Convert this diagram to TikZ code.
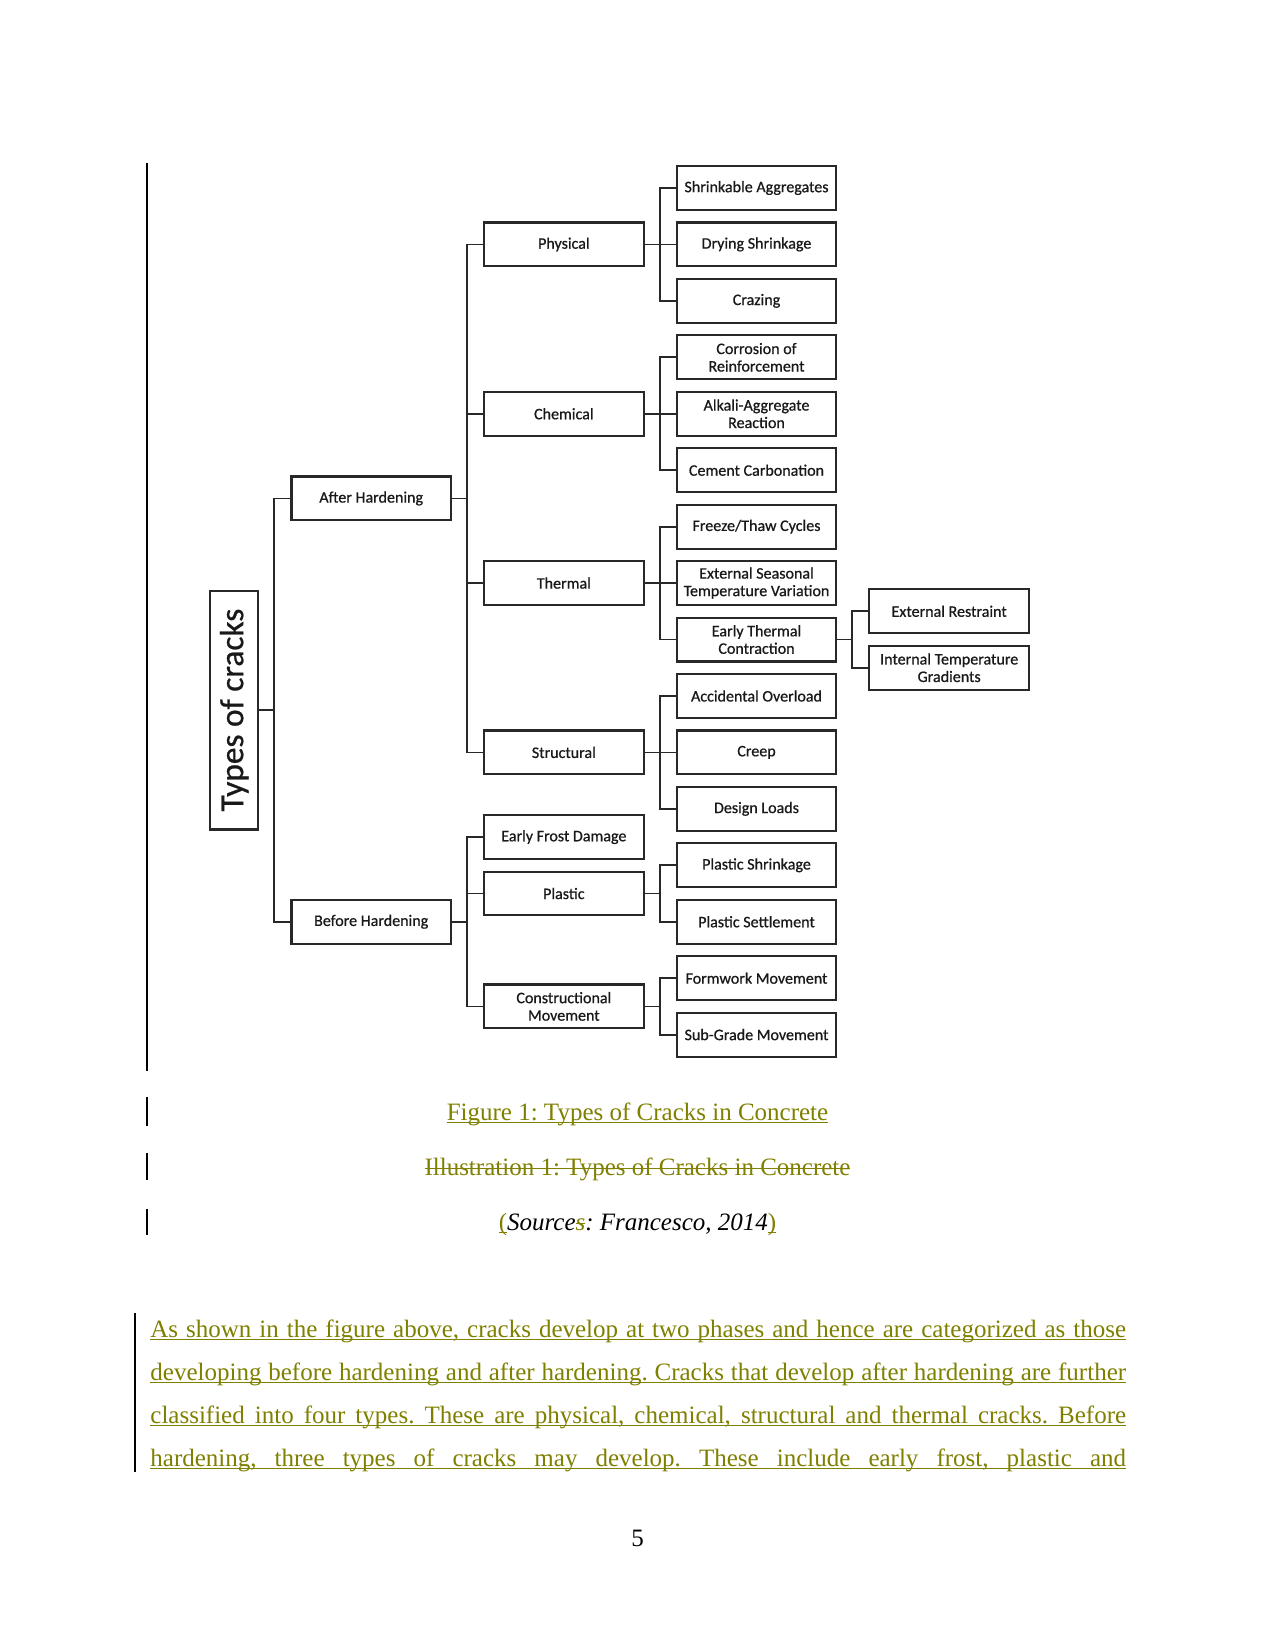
\documentclass[tikz,border=0pt]{standalone}
\usepackage{fontspec}
\setmainfont{Liberation Serif}
\newfontfamily\diagfont[FakeBold=0.7]{Carlito}
\usetikzlibrary{positioning, calc}

\definecolor{cambio}{RGB}{128,128,0}
\definecolor{trazo}{RGB}{40,40,40}

% Subrayado y tachado de control de cambios
\newcommand\subrayado[1]{\setbox0\hbox{#1}\rlap{\rule[-1.4pt]{\wd0}{0.6pt}}\box0}
\newcommand\tachado[1]{\setbox0\hbox{#1}\rlap{\rule[2.9pt]{\wd0}{0.6pt}}\box0}

\begin{document}
\begin{tikzpicture}[
		x=0.48pt, y=-0.48pt,
		% Estilos de las cajas del diagrama
		block/.style = {draw=trazo, line width=1pt, rectangle, minimum width=2.69cm, minimum height=0.74cm, align=center, inner sep=1pt, text=black!90, font=\diagfont\fontsize{7.7}{8.4}\selectfont},
		root_block/.style = {draw=trazo, line width=1pt, rectangle, minimum width=4.03cm, minimum height=0.81cm, inner sep=1pt, text=black!90, font=\diagfont\fontsize{16}{18}\selectfont},
		link/.style = {draw=trazo, line width=0.85pt},
		bar/.style = {line width=0.7pt},
		pagetext/.style = {font=\fontsize{12}{14}\selectfont\frenchspacing, inner sep=0pt},
		parline/.style = {pagetext, text=cambio, anchor=base west},
		]
		
		% Fondo de la pagina
		\useasboundingbox [fill=white] (0,0) rectangle (1275,1650);
		
		% --- TERCER NIVEL (columna de causas) ---
		\node [block] (shrink) at (756.5,188) {Shrinkable Aggregates};
		\node [block, below=0.177cm of shrink] (drying) {Drying Shrinkage};
		\node [block, below=0.177cm of drying] (crazing) {Crazing};
		\node [block, below=0.177cm of crazing] (corrosion) {Corrosion of\\Reinforcement};
		\node [block, below=0.177cm of corrosion] (alkali) {Alkali-Aggregate\\Reaction};
		\node [block, below=0.177cm of alkali] (carbon) {Cement Carbonation};
		\node [block, below=0.177cm of carbon] (freeze) {Freeze/Thaw Cycles};
		\node [block, below=0.177cm of freeze] (seasonal) {External Seasonal\\Temperature Variation};
		\node [block, below=0.177cm of seasonal] (early_th) {Early Thermal\\Contraction};
		\node [block, below=0.177cm of early_th] (overload) {Accidental Overload};
		\node [block, below=0.177cm of overload] (creep) {Creep};
		\node [block, below=0.177cm of creep] (design) {Design Loads};
		\node [block, below=0.177cm of design] (pl_shrink) {Plastic Shrinkage};
		\node [block, below=0.177cm of pl_shrink] (pl_settle) {Plastic Settlement};
		\node [block, below=0.177cm of pl_settle] (formwork) {Formwork Movement};
		\node [block, below=0.177cm of formwork] (subgrade) {Sub-Grade Movement};
		
		% Cuarto nivel (contraccion termica temprana)
		\node [block, right=0.525cm of early_th, yshift=0.477cm] (ext_rest) {External Restraint};
		\node [block, below=0.177cm of ext_rest] (int_grad) {Internal Temperature\\Gradients};
		
		% --- SEGUNDO NIVEL ---
		\node [block, left=0.525cm of drying] (physical) {Physical};
		\node [block, left=0.525cm of alkali] (chemical) {Chemical};
		\node [block, left=0.525cm of seasonal] (thermal) {Thermal};
		\node [block, left=0.525cm of creep] (structural) {Structural};
		\coordinate (m_frost) at ($(design.west)!0.5!(pl_shrink.west)$);
		\node [block, left=0.525cm of m_frost] (frost) {Early Frost Damage};
		\coordinate (m_plastic) at ($(pl_shrink.west)!0.5!(pl_settle.west)$);
		\node [block, left=0.525cm of m_plastic] (plastic) {Plastic};
		\coordinate (m_constr) at ($(formwork.west)!0.5!(subgrade.west)$);
		\node [block, left=0.525cm of m_constr] (constr) {Constructional\\Movement};
		
		% --- PRIMER NIVEL ---
		\coordinate (m_after) at ($(physical.west)!0.5!(structural.west)$);
		\node [block, left=0.525cm of m_after] (after) {After Hardening};
		\coordinate (m_before) at ($(frost.west)!0.5!(constr.west)$);
		\node [block, left=0.525cm of m_before] (before) {Before Hardening};
		
		% Raiz (texto girado)
		\coordinate (m_root) at ($(after.west)!0.5!(before.west)$);
		\node [root_block, rotate=90, anchor=south] (root) at ($(m_root)+(-0.525cm,0)$) {Types of cracks};
		
		% --- CONEXIONES ---
		\draw [link] (root.south) -- ++(0.254cm,0) |- (after.west);
		\draw [link] (root.south) -- ++(0.254cm,0) |- (before.west);
		
		\draw [link] (after.east) -- ++(0.254cm,0) |- (physical.west);
		\draw [link] (after.east) -- ++(0.254cm,0) |- (chemical.west);
		\draw [link] (after.east) -- ++(0.254cm,0) |- (thermal.west);
		\draw [link] (after.east) -- ++(0.254cm,0) |- (structural.west);
		
		\draw [link] (before.east) -- ++(0.254cm,0) |- (frost.west);
		\draw [link] (before.east) -- ++(0.254cm,0) |- (plastic.west);
		\draw [link] (before.east) -- ++(0.254cm,0) |- (constr.west);
		
		\draw [link] (physical.east) -- ++(0.254cm,0) |- (shrink.west);
		\draw [link] (physical.east) -- ++(0.254cm,0) |- (drying.west);
		\draw [link] (physical.east) -- ++(0.254cm,0) |- (crazing.west);
		
		\draw [link] (chemical.east) -- ++(0.254cm,0) |- (corrosion.west);
		\draw [link] (chemical.east) -- ++(0.254cm,0) |- (alkali.west);
		\draw [link] (chemical.east) -- ++(0.254cm,0) |- (carbon.west);
		
		\draw [link] (thermal.east) -- ++(0.254cm,0) |- (freeze.west);
		\draw [link] (thermal.east) -- ++(0.254cm,0) |- (seasonal.west);
		\draw [link] (thermal.east) -- ++(0.254cm,0) |- (early_th.west);
		
		\draw [link] (early_th.east) -- ++(0.254cm,0) |- (ext_rest.west);
		\draw [link] (early_th.east) -- ++(0.254cm,0) |- (int_grad.west);
		
		\draw [link] (structural.east) -- ++(0.254cm,0) |- (overload.west);
		\draw [link] (structural.east) -- ++(0.254cm,0) |- (creep.west);
		\draw [link] (structural.east) -- ++(0.254cm,0) |- (design.west);
		
		\draw [link] (plastic.east) -- ++(0.254cm,0) |- (pl_shrink.west);
		\draw [link] (plastic.east) -- ++(0.254cm,0) |- (pl_settle.west);
		
		\draw [link] (constr.east) -- ++(0.254cm,0) |- (formwork.west);
		\draw [link] (constr.east) -- ++(0.254cm,0) |- (subgrade.west);
		
		% --- PIE DE FIGURA ---
		\node [pagetext, text=cambio, anchor=base] (fig_cap) at (637.5,1120) {\subrayado{Figure 1: Types of Cracks in Concrete}};
		\node [pagetext, text=cambio, anchor=base] (ill_cap) at (637.5,1175) {\tachado{Illustration 1: Types of Cracks in Concrete}};
		\node [pagetext, anchor=base] (source) at (637.5,1230) {\textcolor{cambio}{\subrayado{(}}\textit{Source\textcolor{cambio}{\tachado{s}}: Francesco, 2014}\textcolor{cambio}{\subrayado{)}}};
		
		% --- PARRAFO ---
		\node [parline] (line_a) at (150,1337) {\subrayado{\makebox[6.48in][s]{As shown in the figure above, cracks develop at two phases and hence are categorized as those}}};
		\node [parline] (line_b) at (150,1380) {\subrayado{\makebox[6.48in][s]{developing before hardening and after hardening. Cracks that develop after hardening are further}}};
		\node [parline] (line_c) at (150,1423) {\subrayado{\makebox[6.48in][s]{classified into four types. These are physical, chemical, structural and thermal cracks. Before}}};
		\node [parline] (line_d) at (150,1466) {\subrayado{\makebox[6.48in][s]{hardening, three types of cracks may develop. These include early frost, plastic and}}};
		
		\node [pagetext, anchor=base] (page_no) at (637.5,1546) {5};
		
		% Barras de control de cambios en el margen
		\draw [bar] (147,163) -- (147,1071);
		\draw [bar] (147,1097) -- (147,1126);
		\draw [bar] (147,1153) -- (147,1180);
		\draw [bar] (147,1209) -- (147,1235);
		\draw [bar] (135,1313) -- (135,1472);
		
	\end{tikzpicture}
\end{document}
